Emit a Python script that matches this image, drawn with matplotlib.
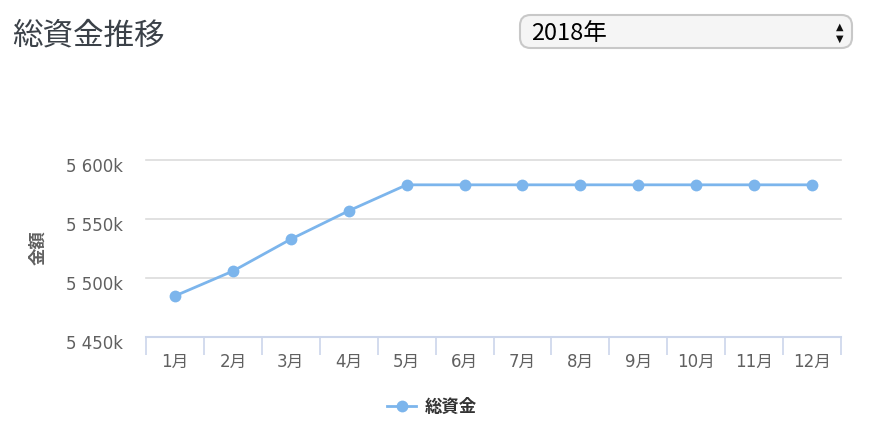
import matplotlib
matplotlib.use("Agg")
import matplotlib.pyplot as plt
from matplotlib.patches import FancyBboxPatch
from matplotlib.ticker import FixedLocator, NullFormatter, FuncFormatter
from matplotlib.transforms import ScaledTranslation

plt.rcParams['font.family'] = ['Noto Sans CJK JP', 'DejaVu Sans']
NUM_FONT = ['DejaVu Sans', 'Noto Sans CJK JP']

# Data (thousand yen)
months = ["1月", "2月", "3月", "4月", "5月", "6月", "7月", "8月", "9月", "10月", "11月", "12月"]
total_funds = [5485, 5506, 5533, 5557, 5579, 5579, 5579, 5579, 5579, 5579, 5579, 5579]
y_ticks = [5450, 5500, 5550, 5600]
series_name = "総資金"
title = "総資金推移"
year_label = "2018年"
y_title = "金額"

W, H = 872, 434
fig = plt.figure(figsize=(W / 100, H / 100), dpi=100)
ax = fig.add_axes([146 / W, 1 - 337.3 / H, (841 - 146) / W, (337.3 - 160) / H])

line_color = "#7cb5ec"
axis_color = "#ccd6eb"
grid_color = "#dcdcdc"
label_color = "#606060"

x = list(range(len(months)))
ax.plot(x, total_funds, color=line_color, lw=2.0, marker="o", markersize=8.5,
        markeredgewidth=0, zorder=3, label=series_name)

ax.set_xlim(-0.5, len(months) - 0.5)
ax.set_ylim(y_ticks[0], y_ticks[-1])

# Grid lines (not clipped, so the top one is drawn at full width)
ax.set_yticks(y_ticks)
ax.yaxis.grid(True, color=grid_color, lw=1.2)
for gl in ax.get_ygridlines():
    gl.set_clip_on(False)
ax.set_axisbelow(True)
ax.yaxis.set_major_formatter(FuncFormatter(lambda v, p: f"{int(v) // 1000} {int(v) % 1000:03d}k"))
ax.tick_params(axis="y", length=0, pad=16.5, labelsize=12, labelcolor=label_color,
               labelfontfamily=NUM_FONT)
for lbl in ax.get_yticklabels():
    lbl.set_horizontalalignment("right")
    lbl.set_transform(lbl.get_transform() + ScaledTranslation(0, -4.5 / 100, fig.dpi_scale_trans))

# Category axis: ticks between categories, labels centred
ax.xaxis.set_major_locator(FixedLocator([i - 0.5 for i in range(len(months) + 1)]))
ax.xaxis.set_major_formatter(NullFormatter())
ax.xaxis.set_minor_locator(FixedLocator(x))
ax.set_xticklabels(months, minor=True)
ax.tick_params(axis="x", which="major", length=13, width=1.2, color=axis_color, direction="out")
ax.tick_params(axis="x", which="minor", length=0, pad=11, labelsize=12, labelcolor=label_color,
               labelfontfamily=NUM_FONT)

for s in ["top", "right", "left"]:
    ax.spines[s].set_visible(False)
ax.spines["bottom"].set_color(axis_color)
ax.spines["bottom"].set_linewidth(1.5)
ax.spines["bottom"].set_zorder(2.5)

# Axis title
fig.text(38 / W, 1 - 248 / H, y_title, rotation=90, color=label_color, fontsize=12.5,
         va="center", ha="center", weight="bold")

# Title
fig.text(12 / W, 1 - 36 / H, title, fontsize=22, color="#3b4148", va="center", ha="left")

# Year selector
box = FancyBboxPatch((520 / W, 1 - 48 / H), (852 - 520) / W, 33 / H,
                     boxstyle="round,pad=0,rounding_size=0.012",
                     transform=fig.transFigure, facecolor="#f5f5f5",
                     edgecolor="#c8c8c8", lw=1.5, mutation_aspect=W / H)
fig.add_artist(box)
fig.text(531 / W, 1 - 34 / H, year_label, fontsize=17, color="#000000", va="center", ha="left")
fig.text(840 / W, 1 - 27 / H, "▲", fontsize=7, color="#111111", va="center", ha="center",
         family="DejaVu Sans")
fig.text(840 / W, 1 - 39 / H, "▼", fontsize=7, color="#111111", va="center", ha="center",
         family="DejaVu Sans")

# Legend
leg = ax.legend(loc="center", bbox_to_anchor=(432 / W, 1 - 407 / H),
                bbox_transform=fig.transFigure, frameon=False, handlelength=1.7,
                handletextpad=0.5, prop={"size": 12.5, "weight": "bold"})
for t in leg.get_texts():
    t.set_color("#333333")

fig.savefig("out.png", dpi=100)
